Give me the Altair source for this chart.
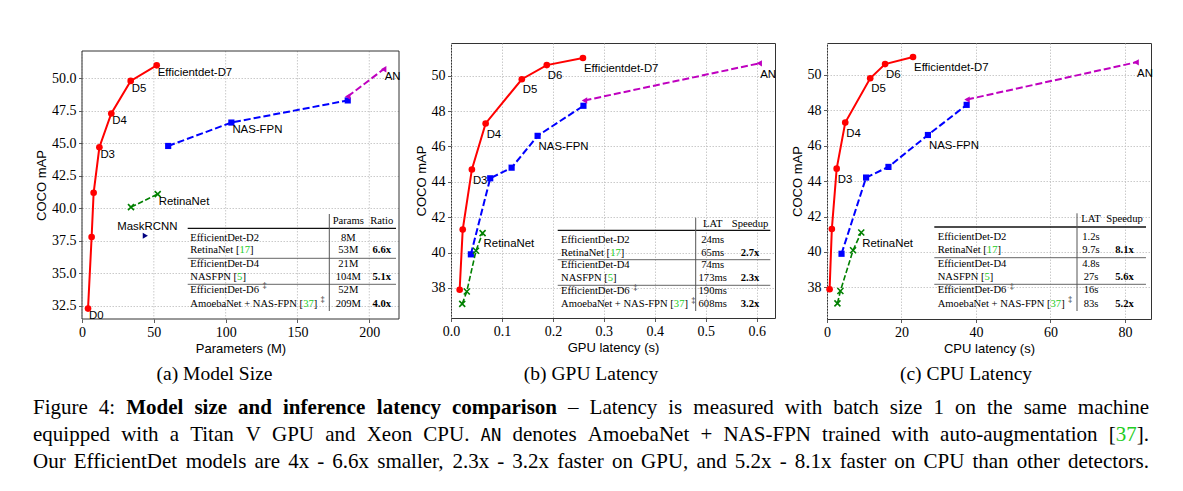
import altair as alt
import pandas as pd

# ----------------------------- data -----------------------------
# (a) Model size: parameters (M) vs COCO mAP
A_EFF_PARAMS = [4.2, 6.7, 8.1, 12.1, 20.4, 33.9, 52.0]
A_EFF_MAP = [32.3, 37.8, 41.2, 44.7, 47.3, 49.8, 51.0]
A_NAS_PARAMS = [60, 104, 185]
A_NAS_MAP = [44.8, 46.6, 48.3]
A_AN_PARAMS = [185, 210]
A_AN_MAP = [48.6, 50.7]
A_RET_PARAMS = [34.1, 52.7]
A_RET_MAP = [40.1, 41.1]
A_MASK_PARAMS = [44.1]
A_MASK_MAP = [37.9]

# (b) GPU latency (s) and (c) CPU latency (s) vs COCO mAP
EFF_MAP = [37.9, 41.3, 44.7, 47.3, 49.8, 50.6, 51.0]
NAS_MAP = [39.9, 44.2, 44.8, 46.6, 48.3]
AN_MAP = [48.6, 50.7]
RET_MAP = [37.1, 37.8, 40.1, 41.1]
B_EFF_GPU = [0.017, 0.023, 0.041, 0.068, 0.139, 0.188, 0.259]
B_NAS_GPU = [0.039, 0.077, 0.119, 0.170, 0.260]
B_AN_GPU = [0.262, 0.605]
B_RET_GPU = [0.022, 0.031, 0.049, 0.062]
C_EFF_CPU = [0.7, 1.3, 2.6, 4.9, 11.6, 15.6, 23.1]
C_NAS_CPU = [3.9, 10.5, 16.5, 27.1, 37.5]
C_AN_CPU = [37.6, 83.0]
C_RET_CPU = [2.8, 3.6, 7.0, 9.2]

# inset tables
TABLE_NAMES = ["EfficientDet-D2", "RetinaNet", "EfficientDet-D4", "NASFPN",
               "EfficientDet-D6", "AmoebaNet + NAS-FPN"]
TABLE_CITES = ["", "17", "", "5", "", "37"]
TABLE_DAGGER = [False, False, False, False, True, True]
A_HEAD = ["Params", "Ratio"]
A_COL2 = ["8M", "53M", "21M", "104M", "52M", "209M"]
A_COL3 = ["", "6.6x", "", "5.1x", "", "4.0x"]
B_HEAD = ["LAT", "Speedup"]
B_COL2 = ["24ms", "65ms", "74ms", "173ms", "190ms", "608ms"]
B_COL3 = ["", "2.7x", "", "2.3x", "", "3.2x"]
C_HEAD = ["LAT", "Speedup"]
C_COL2 = ["1.2s", "9.7s", "4.8s", "27s", "16s", "83s"]
C_COL3 = ["", "8.1x", "", "5.6x", "", "5.2x"]

A_XTICKS = [0, 50, 100, 150, 200]
A_YTICKS = [32.5, 35, 37.5, 40, 42.5, 45, 47.5, 50]
B_XTICKS = [0.0, 0.1, 0.2, 0.3, 0.4, 0.5, 0.6]
C_XTICKS = [0, 20, 40, 60, 80]
BC_YTICKS = [38, 40, 42, 44, 46, 48, 50]

SUBCAPTIONS = ["(a) Model Size", "(b) GPU Latency", "(c) CPU Latency"]
CAPTION = [
    [("Figure 4:", "r", "#000", False),
     ("Model size and inference latency comparison", "b", "#000", False),
     ("– Latency is measured with batch size 1 on the same machine", "r", "#000", False)],
    [("equipped with a Titan V GPU and Xeon CPU.", "r", "#000", False),
     ("AN", "m", "#000", False),
     ("denotes AmoebaNet + NAS-FPN trained with auto-augmentation [", "r", "#000", False),
     ("37", "r", "#22cc22", True),
     ("].", "r", "#000", True)],
    [("Our EfficientDet models are 4x - 6.6x smaller, 2.3x - 3.2x faster on GPU, "
      "and 5.2x - 8.1x faster on CPU than other detectors.", "r", "#000", False)],
]

# ----------------------------- styles / layout -----------------------------
SERIF = "Liberation Serif"
SANS = "Liberation Sans"
GREEN_CITE = "#22cc22"
FRAME = "#333"
GRID = dict(color="#bdbdbd", strokeDash=[1.5, 1.5], strokeWidth=0.8)
X_PATH = "M-1,-1L1,1M-1,1L1,-1"
STYLE = {
    "eff": dict(color="#ff0000", lw=2, dash=None, shape="circle", size=44, filled=True),
    "nas": dict(color="#0000ff", lw=2, dash=[7, 3], shape="square", size=38, filled=True),
    "an": dict(color="#bf00bf", lw=2, dash=[7, 3], shape="triangle-left", size=40, filled=True),
    "ret": dict(color="#008000", lw=1.6, dash=[5.5, 2.4], shape=X_PATH, size=36, filled=False),
    "mask": dict(color="#000080", lw=0, dash=None, shape="triangle-right", size=36, filled=True),
}
# page coordinates: left/top = group origin; inset = gap above the frame
LAYOUT = {
    "a": dict(left=81, top=42, inset=8, w=317, h=276, name_x=189.3, head_y=219.5,
              rows=[237.3, 249.3, 262.7, 276.0, 288.7, 302.7], c2=347.3, c3=380.7,
              vx=328.3, vy=(213, 310), rx=(186.7, 395), top_rule=227.3, mids=(257.3, 283.3)),
    "b": dict(left=450, top=42, inset=0, w=324, h=275, name_x=560, head_y=222.7,
              rows=[239.0, 251.7, 264.3, 276.7, 290.0, 303.3], c2=711.7, c3=749.0,
              vx=694.7, vy=(216.7, 310), rx=(556.7, 769.3), top_rule=229.3, mids=(258.7, 284.3)),
    "c": dict(left=826, top=42, inset=0, w=324, h=276, name_x=936.7, head_y=218.3,
              rows=[236.0, 249.0, 262.7, 275.7, 289.3, 302.7], c2=1090.0, c3=1123.5,
              vx=1076, vy=(212.3, 310), rx=(933.3, 1145), top_rule=226.0, mids=(256.7, 283.3)),
}
TFS = 10.6          # table font size
LFS = 11.4          # point label font size
TICK_FS = 14
CAP_FS = 21         # caption font size
SUB_FS = 19.5
CAP_ORIGIN = (450, 42)   # captions are drawn inside panel (b)
CAP_X = (32, 1148)
CAP_BASE = [413, 440, 467]
SUB_CENTERS = [213.5, 590, 965]
SUB_BASE = 379

_R = {" ": 250, "!": 333, "(": 333, ")": 333, "+": 564, ",": 250, "-": 333, ".": 250,
      ":": 278, "[": 333, "]": 333, "–": 500, "‡": 500,
      "A": 722, "B": 667, "C": 667, "D": 722, "E": 611, "F": 556, "G": 722, "H": 722,
      "I": 333, "J": 389, "K": 722, "L": 611, "M": 889, "N": 722, "O": 722, "P": 556,
      "Q": 722, "R": 667, "S": 556, "T": 611, "U": 722, "V": 722, "W": 944, "X": 722,
      "Y": 722, "Z": 611, "a": 444, "b": 500, "c": 444, "d": 500, "e": 444, "f": 333,
      "g": 500, "h": 500, "i": 278, "j": 278, "k": 500, "l": 278, "m": 778, "n": 500,
      "o": 500, "p": 500, "q": 500, "r": 333, "s": 389, "t": 278, "u": 500, "v": 500,
      "w": 722, "x": 500, "y": 500, "z": 444}
_B = {" ": 250, ".": 250, "M": 944, "a": 500, "b": 556, "c": 444, "d": 556, "e": 444,
      "f": 333, "g": 500, "h": 556, "i": 278, "l": 278, "m": 833, "n": 556, "o": 500,
      "p": 556, "r": 444, "s": 389, "t": 333, "y": 500, "z": 444, "x": 500}


def tw(s, size, style="r"):
    if style == "m":
        return len(s) * 0.602 * size
    table = _B if style == "b" else _R
    return sum(table.get(ch, 500) for ch in s) * size / 1000.0


PX = alt.X("px:Q", scale=None, axis=None)
PY = alt.Y("py:Q", scale=None, axis=None)


def axis(values, fmt, title, grid=True):
    return alt.Axis(values=values, format=fmt, title=title, grid=grid,
                    labelFont=SERIF, labelFontSize=TICK_FS, labelColor="#000",
                    labelPadding=2.5, labelFlush=False, labelOverlap=False,
                    titleFont=SANS, titleFontSize=13, titleFontWeight="normal",
                    titleColor="#000", titlePadding=3)


def series_layers(X, Y, key, xs, ys):
    st = STYLE[key]
    df = pd.DataFrame({"x": xs, "y": ys})
    out = []
    if st["lw"]:
        kw = dict(color=st["color"], strokeWidth=st["lw"])
        if st["dash"]:
            kw["strokeDash"] = st["dash"]
        out.append(alt.Chart(df).mark_line(**kw).encode(x=X, y=Y))
    pkw = dict(shape=st["shape"], size=st["size"], color=st["color"], opacity=1,
               filled=st["filled"])
    if not st["filled"]:
        pkw["strokeWidth"] = 1.6
    out.append(alt.Chart(df).mark_point(**pkw).encode(x=X, y=Y))
    return out


def text_layer(rows, align="left", baseline="middle", weight="normal", font=SERIF,
               size=TFS):
    df = pd.DataFrame(rows, columns=["px", "py", "text", "color"])
    return alt.Chart(df).mark_text(align=align, baseline=baseline, fontWeight=weight,
                                   font=font, fontSize=size).encode(
        x=PX, y=PY, text="text:N", color=alt.Color("color:N", scale=None))


def table_layers(L, head, col2, col3):
    ox, oy = L["left"], L["top"]
    names, cites, daggers = [], [], []
    for i, name in enumerate(TABLE_NAMES):
        y = L["rows"][i] - oy
        x0 = L["name_x"] - ox
        cite = TABLE_CITES[i]
        if cite:
            pre = name + " ["
            names.append((x0, y, pre, "#000"))
            cx = x0 + tw(pre, TFS)
            cites.append((cx, y, cite, GREEN_CITE))
            bx = cx + tw(cite, TFS)
            names.append((bx, y, "]", "#000"))
            end = bx + tw("]", TFS)
        else:
            names.append((x0, y, name, "#000"))
            end = x0 + tw(name, TFS)
        if TABLE_DAGGER[i]:
            daggers.append((end + 3.5, y - 3.5, "‡", "#000"))
    hy = L["head_y"] - oy
    heads = [(L["c2"] - ox, hy, head[0], "#000"), (L["c3"] - ox, hy, head[1], "#000")]
    c2 = [(L["c2"] - ox, L["rows"][i] - oy, v, "#000") for i, v in enumerate(col2)]
    c3 = [(L["c3"] - ox, L["rows"][i] - oy, v, "#000") for i, v in enumerate(col3) if v]
    layers = [
        text_layer(names + cites),
        text_layer(daggers, size=7.5),
        text_layer(heads + c2, align="center"),
        text_layer(c3, align="center", weight="bold"),
    ]
    x0, x1 = L["rx"][0] - ox, L["rx"][1] - ox
    top = pd.DataFrame({"px": [x0], "px2": [x1], "py": [L["top_rule"] - oy]})
    mids = pd.DataFrame({"px": [x0, x0], "px2": [x1, x1],
                         "py": [L["mids"][0] - oy, L["mids"][1] - oy]})
    vl = pd.DataFrame({"px": [L["vx"] - ox], "py": [L["vy"][0] - oy], "py2": [L["vy"][1] - oy]})
    layers.append(alt.Chart(top).mark_rule(color="#111", strokeWidth=1.3).encode(
        x=PX, x2=alt.X2("px2:Q"), y=PY))
    layers.append(alt.Chart(mids).mark_rule(color="#666", strokeWidth=1).encode(
        x=PX, x2=alt.X2("px2:Q"), y=PY))
    layers.append(alt.Chart(vl).mark_rule(color="#555", strokeWidth=1).encode(
        x=PX, y=PY, y2=alt.Y2("py2:Q")))
    return layers


def label_layer(X, Y, items, dy, align="left", dx=1):
    df = pd.DataFrame({"x": [xs[i] for xs, ys, i, t in items],
                       "y": [ys[i] for xs, ys, i, t in items],
                       "text": [t for xs, ys, i, t in items]})
    return alt.Chart(df).mark_text(align=align, baseline="alphabetic", dx=dx, dy=dy,
                                   font=SANS, fontSize=LFS, color="#000").encode(
        x=X, y=Y, text="text:N")


def panel(key, series, labels, label_dy, xdom, ydom, xticks, yticks, xfmt, yfmt, xtitle,
          table, extra=()):
    L = LAYOUT[key]
    inset = L["inset"]
    X = alt.X("x:Q", scale=alt.Scale(domain=xdom, nice=False, zero=False),
              axis=axis(xticks, xfmt, xtitle, grid=(inset == 0)))
    yscale = alt.Scale(domain=ydom, nice=False, zero=False)
    if inset:
        yscale = alt.Scale(domain=ydom, nice=False, zero=False, range=[L["h"], inset])
    Y = alt.Y("y:Q", scale=yscale, axis=axis(yticks, yfmt, "COCO mAP"))
    layers = []
    props = dict(width=L["w"], height=L["h"])
    if inset:
        # vertical grid lines and frame drawn below the 8px gap of panel (a)
        gdf = pd.DataFrame({"x": xticks})
        layers.append(alt.Chart(gdf).mark_rule(**GRID).encode(
            x=X, y=alt.value(inset), y2=alt.value(L["h"])))
        layers.append(alt.Chart(pd.DataFrame({"v": [0]})).mark_rect(
            filled=False, stroke=FRAME, strokeWidth=1).encode(
            x=alt.value(0), x2=alt.value(L["w"]), y=alt.value(inset), y2=alt.value(L["h"])))
        props["view"] = alt.ViewBackground(stroke="transparent")
    for k, xs, ys in series:
        layers += series_layers(X, Y, k, xs, ys)
    layers.append(label_layer(X, Y, labels, label_dy))
    for item in extra:
        layers.append(item(X, Y))
    layers += table_layers(L, *table)
    return layers, props


# ----------------------------- panels -----------------------------
def mask_label(X, Y):
    return label_layer(X, Y, [(A_MASK_PARAMS, A_MASK_MAP, 0, "MaskRCNN")], -5.5,
                       align="center", dx=2)


layers_a, props_a = panel(
    "a",
    [("eff", A_EFF_PARAMS, A_EFF_MAP), ("nas", A_NAS_PARAMS, A_NAS_MAP),
     ("an", A_AN_PARAMS, A_AN_MAP), ("ret", A_RET_PARAMS, A_RET_MAP),
     ("mask", A_MASK_PARAMS, A_MASK_MAP)],
    [(A_EFF_PARAMS, A_EFF_MAP, 0, "D0"), (A_EFF_PARAMS, A_EFF_MAP, 3, "D3"),
     (A_EFF_PARAMS, A_EFF_MAP, 4, "D4"), (A_EFF_PARAMS, A_EFF_MAP, 5, "D5"),
     (A_EFF_PARAMS, A_EFF_MAP, 6, "Efficientdet-D7"), (A_NAS_PARAMS, A_NAS_MAP, 1, "NAS-FPN"),
     (A_RET_PARAMS, A_RET_MAP, 1, "RetinaNet"), (A_AN_PARAMS, A_AN_MAP, 1, "AN")],
    10.8, [0, 220.7], [31.5, 52.1], A_XTICKS, A_YTICKS, "d", ".1f", "Parameters (M)",
    (A_HEAD, A_COL2, A_COL3), extra=[mask_label])


def latency_panel(key, eff, nas, an, ret, xdom, xticks, xfmt, xtitle, ydom, table):
    return panel(
        key,
        [("eff", eff, EFF_MAP), ("nas", nas, NAS_MAP), ("an", an, AN_MAP),
         ("ret", ret, RET_MAP)],
        [(eff, EFF_MAP, 2, "D3"), (eff, EFF_MAP, 3, "D4"), (eff, EFF_MAP, 4, "D5"),
         (eff, EFF_MAP, 5, "D6"), (eff, EFF_MAP, 6, "Efficientdet-D7"),
         (nas, NAS_MAP, 3, "NAS-FPN"), (ret, RET_MAP, 3, "RetinaNet"), (an, AN_MAP, 1, "AN")],
        14.2, xdom, ydom, xticks, BC_YTICKS, xfmt, "d", xtitle, table)


layers_b, props_b = latency_panel("b", B_EFF_GPU, B_NAS_GPU, B_AN_GPU, B_RET_GPU, [0, 0.636],
                                  B_XTICKS, ".1f", "GPU latency (s)",
                                  [36.3, 51.85], (B_HEAD, B_COL2, B_COL3))
layers_c, props_c = latency_panel("c", C_EFF_CPU, C_NAS_CPU, C_AN_CPU, C_RET_CPU, [0, 87],
                                  C_XTICKS, "d", "CPU latency (s)",
                                  [36.22, 51.79], (C_HEAD, C_COL2, C_COL3))

# ----------------------------- captions (drawn in panel b) -----------------------------
ox, oy = CAP_ORIGIN
sub_rows = [(cx - ox, SUB_BASE - oy, t, "#000") for cx, t in zip(SUB_CENTERS, SUBCAPTIONS)]

cap_r, cap_b, cap_m = [], [], []
MONO_SCALE = 0.82
for line, base in zip(CAPTION, CAP_BASE):
    toks = []
    for text, style, color, glued in line:
        for j, w in enumerate(text.split(" ")):
            toks.append((w, style, color, glued if j == 0 else False))
    widths = [tw(w, CAP_FS * (MONO_SCALE if st == "m" else 1.0), st)
              for w, st, c, g in toks]
    nspace = sum(1 for i, t in enumerate(toks) if i > 0 and not t[3])
    natural = sum(widths) + nspace * tw(" ", CAP_FS)
    gap = tw(" ", CAP_FS) + (CAP_X[1] - CAP_X[0] - natural) / nspace
    x = CAP_X[0]
    for i, (w, st, c, g) in enumerate(toks):
        if i > 0 and not g:
            x += gap
        {"r": cap_r, "b": cap_b, "m": cap_m}[st].append((x - ox, base - oy, w, c))
        x += widths[i]

layers_b += [
    text_layer(sub_rows, align="center", baseline="alphabetic", size=SUB_FS),
    text_layer(cap_r, baseline="alphabetic", size=CAP_FS),
    text_layer(cap_b, baseline="alphabetic", size=CAP_FS, weight="bold"),
    text_layer(cap_m, baseline="alphabetic", size=CAP_FS * MONO_SCALE, font="DejaVu Sans Mono"),
]

panel_a = alt.layer(*layers_a).properties(**props_a)
panel_b = alt.layer(*layers_b).properties(**props_b)
panel_c = alt.layer(*layers_c).properties(**props_c)

chart = alt.hconcat(panel_a, panel_b, panel_c, spacing=52, bounds="flush").properties(
    padding={"left": 24, "top": 34, "right": 0, "bottom": 0}
).configure_view(stroke=FRAME, strokeWidth=1).configure_axis(
    domain=False, grid=True, gridColor=GRID["color"], gridDash=GRID["strokeDash"],
    gridWidth=GRID["strokeWidth"],
    ticks=True, tickColor=FRAME, tickSize=3.5, tickWidth=0.8)

chart.save("out.html", embed_options={"renderer": "svg", "actions": False})
